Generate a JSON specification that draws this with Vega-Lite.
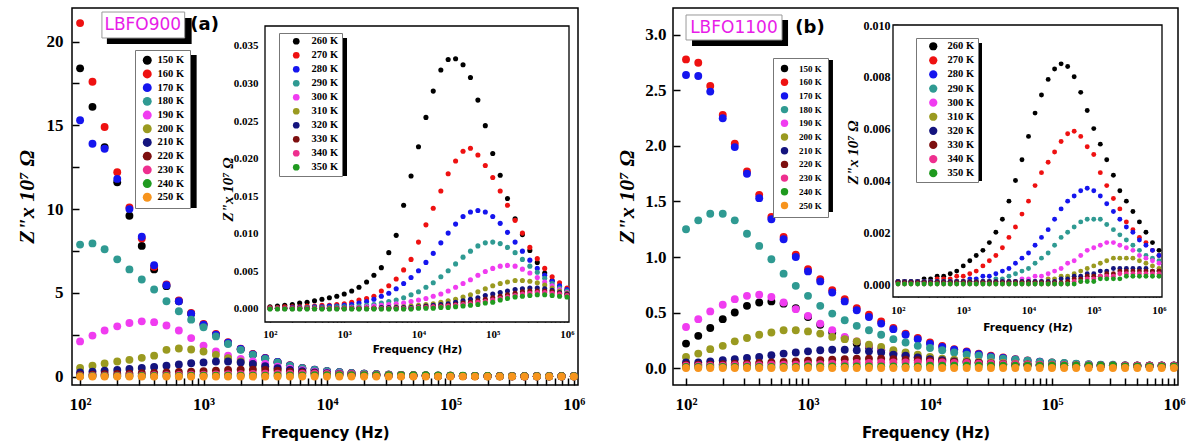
{
"$schema":"https://vega.github.io/schema/vega-lite/v6.json",
"width":1192,"height":446,"padding":0,"autosize":{"type":"none"},"background":"white",
"config":{"view":{"stroke":null},"axis":{"grid":false,"domain":false,"ticks":true,"tickOpacity":1,"tickColor":"#000000","labelColor":"black","titleColor":"black","zindex":2,"labelFlush":false,"labelOverlap":false,"labelBound":false,"tickWidth":1.5}},
"datasets":{
"ma":[
{"T":150,"f":100,"z":18.4},{"T":150,"f":126,"z":16.1},{"T":150,"f":158,"z":13.7},{"T":150,"f":200,"z":11.6},{"T":150,"f":251,"z":9.6},{"T":150,"f":316,"z":7.8},{"T":150,"f":398,"z":6.4},{"T":150,"f":501,"z":5.4},{"T":150,"f":631,"z":4.5},{"T":150,"f":794,"z":3.75},{"T":150,"f":1000,"z":3.1},{"T":150,"f":1260,"z":2.5},{"T":150,"f":1580,"z":2.0},{"T":150,"f":2000,"z":1.63},{"T":150,"f":2510,"z":1.32},{"T":150,"f":3160,"z":1.1},{"T":150,"f":3980,"z":0.86},{"T":150,"f":5010,"z":0.66},{"T":150,"f":6310,"z":0.5},{"T":150,"f":7940,"z":0.4},{"T":150,"f":1e4,"z":0.32},{"T":150,"f":1.26e4,"z":0.26},{"T":150,"f":1.58e4,"z":0.21},{"T":150,"f":2e4,"z":0.17},{"T":150,"f":2.51e4,"z":0.14},{"T":150,"f":3.16e4,"z":0.12},{"T":150,"f":3.98e4,"z":0.1},{"T":150,"f":5.01e4,"z":0.08},{"T":150,"f":6.31e4,"z":0.07},{"T":150,"f":7.94e4,"z":0.06},{"T":150,"f":1e5,"z":0.05},{"T":150,"f":1.26e5,"z":0.04},{"T":150,"f":1.58e5,"z":0.04},{"T":150,"f":2e5,"z":0.03},{"T":150,"f":2.51e5,"z":0.03},{"T":150,"f":3.16e5,"z":0.03},{"T":150,"f":3.98e5,"z":0.02},{"T":150,"f":5.01e5,"z":0.02},{"T":150,"f":6.31e5,"z":0.02},{"T":150,"f":7.94e5,"z":0.02},{"T":150,"f":1e6,"z":0.02},
{"T":160,"f":100,"z":21.1},{"T":160,"f":126,"z":17.6},{"T":160,"f":158,"z":14.9},{"T":160,"f":200,"z":12.2},{"T":160,"f":251,"z":10.1},{"T":160,"f":316,"z":8.25},{"T":160,"f":398,"z":6.55},{"T":160,"f":501,"z":5.5},{"T":160,"f":631,"z":4.55},{"T":160,"f":794,"z":3.8},{"T":160,"f":1000,"z":3.15},{"T":160,"f":1260,"z":2.55},{"T":160,"f":1580,"z":2.05},{"T":160,"f":2000,"z":1.67},{"T":160,"f":2510,"z":1.35},{"T":160,"f":3160,"z":1.12},{"T":160,"f":3980,"z":0.88},{"T":160,"f":5010,"z":0.68},{"T":160,"f":6310,"z":0.52},{"T":160,"f":7940,"z":0.42},{"T":160,"f":1e4,"z":0.33},{"T":160,"f":1.26e4,"z":0.27},{"T":160,"f":1.58e4,"z":0.22},{"T":160,"f":2e4,"z":0.18},{"T":160,"f":2.51e4,"z":0.15},{"T":160,"f":3.16e4,"z":0.12},{"T":160,"f":3.98e4,"z":0.1},{"T":160,"f":5.01e4,"z":0.08},{"T":160,"f":6.31e4,"z":0.07},{"T":160,"f":7.94e4,"z":0.06},{"T":160,"f":1e5,"z":0.05},{"T":160,"f":1.26e5,"z":0.04},{"T":160,"f":1.58e5,"z":0.04},{"T":160,"f":2e5,"z":0.03},{"T":160,"f":2.51e5,"z":0.03},{"T":160,"f":3.16e5,"z":0.03},{"T":160,"f":3.98e5,"z":0.02},{"T":160,"f":5.01e5,"z":0.02},{"T":160,"f":6.31e5,"z":0.02},{"T":160,"f":7.94e5,"z":0.02},{"T":160,"f":1e6,"z":0.02},
{"T":170,"f":100,"z":15.3},{"T":170,"f":126,"z":13.9},{"T":170,"f":158,"z":13.6},{"T":170,"f":200,"z":11.8},{"T":170,"f":251,"z":10.0},{"T":170,"f":316,"z":8.35},{"T":170,"f":398,"z":6.65},{"T":170,"f":501,"z":5.45},{"T":170,"f":631,"z":4.5},{"T":170,"f":794,"z":3.75},{"T":170,"f":1000,"z":3.1},{"T":170,"f":1260,"z":2.5},{"T":170,"f":1580,"z":2.02},{"T":170,"f":2000,"z":1.65},{"T":170,"f":2510,"z":1.33},{"T":170,"f":3160,"z":1.1},{"T":170,"f":3980,"z":0.87},{"T":170,"f":5010,"z":0.67},{"T":170,"f":6310,"z":0.51},{"T":170,"f":7940,"z":0.41},{"T":170,"f":1e4,"z":0.32},{"T":170,"f":1.26e4,"z":0.26},{"T":170,"f":1.58e4,"z":0.21},{"T":170,"f":2e4,"z":0.17},{"T":170,"f":2.51e4,"z":0.14},{"T":170,"f":3.16e4,"z":0.11},{"T":170,"f":3.98e4,"z":0.09},{"T":170,"f":5.01e4,"z":0.075},{"T":170,"f":6.31e4,"z":0.065},{"T":170,"f":7.94e4,"z":0.055},{"T":170,"f":1e5,"z":0.045},{"T":170,"f":1.26e5,"z":0.04},{"T":170,"f":1.58e5,"z":0.035},{"T":170,"f":2e5,"z":0.03},{"T":170,"f":2.51e5,"z":0.03},{"T":170,"f":3.16e5,"z":0.025},{"T":170,"f":3.98e5,"z":0.02},{"T":170,"f":5.01e5,"z":0.02},{"T":170,"f":6.31e5,"z":0.02},{"T":170,"f":7.94e5,"z":0.02},{"T":170,"f":1e6,"z":0.02},
{"T":180,"f":100,"z":7.88},{"T":180,"f":126,"z":7.95},{"T":180,"f":158,"z":7.6},{"T":180,"f":200,"z":7.0},{"T":180,"f":251,"z":6.4},{"T":180,"f":316,"z":5.8},{"T":180,"f":398,"z":5.2},{"T":180,"f":501,"z":4.5},{"T":180,"f":631,"z":3.9},{"T":180,"f":794,"z":3.4},{"T":180,"f":1000,"z":2.95},{"T":180,"f":1260,"z":2.4},{"T":180,"f":1580,"z":1.95},{"T":180,"f":2000,"z":1.6},{"T":180,"f":2510,"z":1.3},{"T":180,"f":3160,"z":1.05},{"T":180,"f":3980,"z":0.85},{"T":180,"f":5010,"z":0.65},{"T":180,"f":6310,"z":0.5},{"T":180,"f":7940,"z":0.4},{"T":180,"f":1e4,"z":0.32},{"T":180,"f":1.26e4,"z":0.26},{"T":180,"f":1.58e4,"z":0.21},{"T":180,"f":2e4,"z":0.17},{"T":180,"f":2.51e4,"z":0.14},{"T":180,"f":3.16e4,"z":0.11},{"T":180,"f":3.98e4,"z":0.09},{"T":180,"f":5.01e4,"z":0.075},{"T":180,"f":6.31e4,"z":0.06},{"T":180,"f":7.94e4,"z":0.05},{"T":180,"f":1e5,"z":0.045},{"T":180,"f":1.26e5,"z":0.04},{"T":180,"f":1.58e5,"z":0.035},{"T":180,"f":2e5,"z":0.03},{"T":180,"f":2.51e5,"z":0.03},{"T":180,"f":3.16e5,"z":0.025},{"T":180,"f":3.98e5,"z":0.02},{"T":180,"f":5.01e5,"z":0.02},{"T":180,"f":6.31e5,"z":0.02},{"T":180,"f":7.94e5,"z":0.02},{"T":180,"f":1e6,"z":0.02},
{"T":190,"f":100,"z":2.1},{"T":190,"f":126,"z":2.45},{"T":190,"f":158,"z":2.75},{"T":190,"f":200,"z":3.0},{"T":190,"f":251,"z":3.2},{"T":190,"f":316,"z":3.3},{"T":190,"f":398,"z":3.25},{"T":190,"f":501,"z":3.05},{"T":190,"f":631,"z":2.75},{"T":190,"f":794,"z":2.3},{"T":190,"f":1000,"z":1.85},{"T":190,"f":1260,"z":1.5},{"T":190,"f":1580,"z":1.25},{"T":190,"f":2000,"z":1.05},{"T":190,"f":2510,"z":0.9},{"T":190,"f":3160,"z":0.75},{"T":190,"f":3980,"z":0.6},{"T":190,"f":5010,"z":0.48},{"T":190,"f":6310,"z":0.38},{"T":190,"f":7940,"z":0.3},{"T":190,"f":1e4,"z":0.24},{"T":190,"f":1.26e4,"z":0.19},{"T":190,"f":1.58e4,"z":0.15},{"T":190,"f":2e4,"z":0.12},{"T":190,"f":2.51e4,"z":0.1},{"T":190,"f":3.16e4,"z":0.08},{"T":190,"f":3.98e4,"z":0.07},{"T":190,"f":5.01e4,"z":0.06},{"T":190,"f":6.31e4,"z":0.05},{"T":190,"f":7.94e4,"z":0.05},{"T":190,"f":1e5,"z":0.04},{"T":190,"f":1.26e5,"z":0.04},{"T":190,"f":1.58e5,"z":0.03},{"T":190,"f":2e5,"z":0.03},{"T":190,"f":2.51e5,"z":0.03},{"T":190,"f":3.16e5,"z":0.02},{"T":190,"f":3.98e5,"z":0.02},{"T":190,"f":5.01e5,"z":0.02},{"T":190,"f":6.31e5,"z":0.02},{"T":190,"f":7.94e5,"z":0.02},{"T":190,"f":1e6,"z":0.02},
{"T":200,"f":100,"z":0.52},{"T":200,"f":126,"z":0.65},{"T":200,"f":158,"z":0.78},{"T":200,"f":200,"z":0.9},{"T":200,"f":251,"z":1.0},{"T":200,"f":316,"z":1.12},{"T":200,"f":398,"z":1.25},{"T":200,"f":501,"z":1.6},{"T":200,"f":631,"z":1.68},{"T":200,"f":794,"z":1.62},{"T":200,"f":1000,"z":1.5},{"T":200,"f":1260,"z":1.3},{"T":200,"f":1580,"z":1.1},{"T":200,"f":2000,"z":0.9},{"T":200,"f":2510,"z":0.72},{"T":200,"f":3160,"z":0.58},{"T":200,"f":3980,"z":0.45},{"T":200,"f":5010,"z":0.35},{"T":200,"f":6310,"z":0.27},{"T":200,"f":7940,"z":0.2},{"T":200,"f":1e4,"z":0.16},{"T":200,"f":1.26e4,"z":0.13},{"T":200,"f":1.58e4,"z":0.1},{"T":200,"f":2e4,"z":0.08},{"T":200,"f":2.51e4,"z":0.07},{"T":200,"f":3.16e4,"z":0.06},{"T":200,"f":3.98e4,"z":0.05},{"T":200,"f":5.01e4,"z":0.05},{"T":200,"f":6.31e4,"z":0.04},{"T":200,"f":7.94e4,"z":0.04},{"T":200,"f":1e5,"z":0.03},{"T":200,"f":1.26e5,"z":0.03},{"T":200,"f":1.58e5,"z":0.03},{"T":200,"f":2e5,"z":0.02},{"T":200,"f":2.51e5,"z":0.02},{"T":200,"f":3.16e5,"z":0.02},{"T":200,"f":3.98e5,"z":0.02},{"T":200,"f":5.01e5,"z":0.02},{"T":200,"f":6.31e5,"z":0.02},{"T":200,"f":7.94e5,"z":0.02},{"T":200,"f":1e6,"z":0.02},
{"T":210,"f":100,"z":0.25},{"T":210,"f":126,"z":0.3},{"T":210,"f":158,"z":0.35},{"T":210,"f":200,"z":0.4},{"T":210,"f":251,"z":0.46},{"T":210,"f":316,"z":0.52},{"T":210,"f":398,"z":0.58},{"T":210,"f":501,"z":0.65},{"T":210,"f":631,"z":0.72},{"T":210,"f":794,"z":0.8},{"T":210,"f":1000,"z":0.85},{"T":210,"f":1260,"z":0.9},{"T":210,"f":1580,"z":0.9},{"T":210,"f":2000,"z":0.85},{"T":210,"f":2510,"z":0.75},{"T":210,"f":3160,"z":0.62},{"T":210,"f":3980,"z":0.5},{"T":210,"f":5010,"z":0.4},{"T":210,"f":6310,"z":0.32},{"T":210,"f":7940,"z":0.25},{"T":210,"f":1e4,"z":0.2},{"T":210,"f":1.26e4,"z":0.16},{"T":210,"f":1.58e4,"z":0.13},{"T":210,"f":2e4,"z":0.1},{"T":210,"f":2.51e4,"z":0.08},{"T":210,"f":3.16e4,"z":0.07},{"T":210,"f":3.98e4,"z":0.06},{"T":210,"f":5.01e4,"z":0.05},{"T":210,"f":6.31e4,"z":0.05},{"T":210,"f":7.94e4,"z":0.04},{"T":210,"f":1e5,"z":0.04},{"T":210,"f":1.26e5,"z":0.03},{"T":210,"f":1.58e5,"z":0.03},{"T":210,"f":2e5,"z":0.03},{"T":210,"f":2.51e5,"z":0.02},{"T":210,"f":3.16e5,"z":0.02},{"T":210,"f":3.98e5,"z":0.02},{"T":210,"f":5.01e5,"z":0.02},{"T":210,"f":6.31e5,"z":0.02},{"T":210,"f":7.94e5,"z":0.02},{"T":210,"f":1e6,"z":0.02},
{"T":220,"f":100,"z":0.1},{"T":220,"f":126,"z":0.12},{"T":220,"f":158,"z":0.14},{"T":220,"f":200,"z":0.16},{"T":220,"f":251,"z":0.18},{"T":220,"f":316,"z":0.2},{"T":220,"f":398,"z":0.22},{"T":220,"f":501,"z":0.25},{"T":220,"f":631,"z":0.28},{"T":220,"f":794,"z":0.3},{"T":220,"f":1000,"z":0.33},{"T":220,"f":1260,"z":0.36},{"T":220,"f":1580,"z":0.4},{"T":220,"f":2000,"z":0.42},{"T":220,"f":2510,"z":0.42},{"T":220,"f":3160,"z":0.4},{"T":220,"f":3980,"z":0.36},{"T":220,"f":5010,"z":0.3},{"T":220,"f":6310,"z":0.25},{"T":220,"f":7940,"z":0.2},{"T":220,"f":1e4,"z":0.16},{"T":220,"f":1.26e4,"z":0.13},{"T":220,"f":1.58e4,"z":0.11},{"T":220,"f":2e4,"z":0.09},{"T":220,"f":2.51e4,"z":0.07},{"T":220,"f":3.16e4,"z":0.06},{"T":220,"f":3.98e4,"z":0.05},{"T":220,"f":5.01e4,"z":0.04},{"T":220,"f":6.31e4,"z":0.04},{"T":220,"f":7.94e4,"z":0.03},{"T":220,"f":1e5,"z":0.03},{"T":220,"f":1.26e5,"z":0.03},{"T":220,"f":1.58e5,"z":0.02},{"T":220,"f":2e5,"z":0.02},{"T":220,"f":2.51e5,"z":0.02},{"T":220,"f":3.16e5,"z":0.02},{"T":220,"f":3.98e5,"z":0.02},{"T":220,"f":5.01e5,"z":0.02},{"T":220,"f":6.31e5,"z":0.02},{"T":220,"f":7.94e5,"z":0.02},{"T":220,"f":1e6,"z":0.02},
{"T":230,"f":100,"z":0.05},{"T":230,"f":126,"z":0.05},{"T":230,"f":158,"z":0.06},{"T":230,"f":200,"z":0.06},{"T":230,"f":251,"z":0.07},{"T":230,"f":316,"z":0.07},{"T":230,"f":398,"z":0.08},{"T":230,"f":501,"z":0.09},{"T":230,"f":631,"z":0.1},{"T":230,"f":794,"z":0.11},{"T":230,"f":1000,"z":0.12},{"T":230,"f":1260,"z":0.13},{"T":230,"f":1580,"z":0.14},{"T":230,"f":2000,"z":0.15},{"T":230,"f":2510,"z":0.16},{"T":230,"f":3160,"z":0.17},{"T":230,"f":3980,"z":0.18},{"T":230,"f":5010,"z":0.18},{"T":230,"f":6310,"z":0.18},{"T":230,"f":7940,"z":0.17},{"T":230,"f":1e4,"z":0.16},{"T":230,"f":1.26e4,"z":0.15},{"T":230,"f":1.58e4,"z":0.14},{"T":230,"f":2e4,"z":0.12},{"T":230,"f":2.51e4,"z":0.11},{"T":230,"f":3.16e4,"z":0.1},{"T":230,"f":3.98e4,"z":0.09},{"T":230,"f":5.01e4,"z":0.08},{"T":230,"f":6.31e4,"z":0.07},{"T":230,"f":7.94e4,"z":0.06},{"T":230,"f":1e5,"z":0.05},{"T":230,"f":1.26e5,"z":0.04},{"T":230,"f":1.58e5,"z":0.04},{"T":230,"f":2e5,"z":0.03},{"T":230,"f":2.51e5,"z":0.03},{"T":230,"f":3.16e5,"z":0.03},{"T":230,"f":3.98e5,"z":0.02},{"T":230,"f":5.01e5,"z":0.02},{"T":230,"f":6.31e5,"z":0.02},{"T":230,"f":7.94e5,"z":0.02},{"T":230,"f":1e6,"z":0.02},
{"T":240,"f":100,"z":0.03},{"T":240,"f":126,"z":0.03},{"T":240,"f":158,"z":0.03},{"T":240,"f":200,"z":0.03},{"T":240,"f":251,"z":0.03},{"T":240,"f":316,"z":0.04},{"T":240,"f":398,"z":0.04},{"T":240,"f":501,"z":0.04},{"T":240,"f":631,"z":0.04},{"T":240,"f":794,"z":0.05},{"T":240,"f":1000,"z":0.05},{"T":240,"f":1260,"z":0.05},{"T":240,"f":1580,"z":0.05},{"T":240,"f":2000,"z":0.06},{"T":240,"f":2510,"z":0.06},{"T":240,"f":3160,"z":0.06},{"T":240,"f":3980,"z":0.07},{"T":240,"f":5010,"z":0.07},{"T":240,"f":6310,"z":0.07},{"T":240,"f":7940,"z":0.08},{"T":240,"f":1e4,"z":0.08},{"T":240,"f":1.26e4,"z":0.08},{"T":240,"f":1.58e4,"z":0.09},{"T":240,"f":2e4,"z":0.09},{"T":240,"f":2.51e4,"z":0.09},{"T":240,"f":3.16e4,"z":0.09},{"T":240,"f":3.98e4,"z":0.09},{"T":240,"f":5.01e4,"z":0.08},{"T":240,"f":6.31e4,"z":0.08},{"T":240,"f":7.94e4,"z":0.07},{"T":240,"f":1e5,"z":0.06},{"T":240,"f":1.26e5,"z":0.05},{"T":240,"f":1.58e5,"z":0.04},{"T":240,"f":2e5,"z":0.04},{"T":240,"f":2.51e5,"z":0.03},{"T":240,"f":3.16e5,"z":0.03},{"T":240,"f":3.98e5,"z":0.03},{"T":240,"f":5.01e5,"z":0.02},{"T":240,"f":6.31e5,"z":0.02},{"T":240,"f":7.94e5,"z":0.02},{"T":240,"f":1e6,"z":0.02},
{"T":250,"f":100,"z":0},{"T":250,"f":126,"z":0},{"T":250,"f":158,"z":0},{"T":250,"f":200,"z":0},{"T":250,"f":251,"z":0},{"T":250,"f":316,"z":0},{"T":250,"f":398,"z":0},{"T":250,"f":501,"z":0},{"T":250,"f":631,"z":0},{"T":250,"f":794,"z":0},{"T":250,"f":1000,"z":0},{"T":250,"f":1260,"z":0},{"T":250,"f":1580,"z":0},{"T":250,"f":2000,"z":0},{"T":250,"f":2510,"z":0},{"T":250,"f":3160,"z":0},{"T":250,"f":3980,"z":0},{"T":250,"f":5010,"z":0},{"T":250,"f":6310,"z":0},{"T":250,"f":7940,"z":0},{"T":250,"f":1e4,"z":0},{"T":250,"f":1.26e4,"z":0},{"T":250,"f":1.58e4,"z":0},{"T":250,"f":2e4,"z":0},{"T":250,"f":2.51e4,"z":0},{"T":250,"f":3.16e4,"z":0},{"T":250,"f":3.98e4,"z":0},{"T":250,"f":5.01e4,"z":0},{"T":250,"f":6.31e4,"z":0},{"T":250,"f":7.94e4,"z":0},{"T":250,"f":1e5,"z":0},{"T":250,"f":1.26e5,"z":0},{"T":250,"f":1.58e5,"z":0},{"T":250,"f":2e5,"z":0},{"T":250,"f":2.51e5,"z":0},{"T":250,"f":3.16e5,"z":0},{"T":250,"f":3.98e5,"z":0},{"T":250,"f":5.01e5,"z":0},{"T":250,"f":6.31e5,"z":0},{"T":250,"f":7.94e5,"z":0},{"T":250,"f":1e6,"z":0}
],
"mb":[
{"T":150,"f":100,"z":0.22},{"T":150,"f":126,"z":0.29},{"T":150,"f":158,"z":0.36},{"T":150,"f":200,"z":0.44},{"T":150,"f":251,"z":0.5},{"T":150,"f":316,"z":0.56},{"T":150,"f":398,"z":0.59},{"T":150,"f":501,"z":0.6},{"T":150,"f":631,"z":0.58},{"T":150,"f":794,"z":0.54},{"T":150,"f":1000,"z":0.46},{"T":150,"f":1260,"z":0.39},{"T":150,"f":1580,"z":0.32},{"T":150,"f":2000,"z":0.27},{"T":150,"f":2510,"z":0.22},{"T":150,"f":3160,"z":0.19},{"T":150,"f":3980,"z":0.16},{"T":150,"f":5010,"z":0.13},{"T":150,"f":6310,"z":0.11},{"T":150,"f":7940,"z":0.095},{"T":150,"f":1e4,"z":0.085},{"T":150,"f":1.26e4,"z":0.075},{"T":150,"f":1.58e4,"z":0.065},{"T":150,"f":2e4,"z":0.06},{"T":150,"f":2.51e4,"z":0.05},{"T":150,"f":3.16e4,"z":0.045},{"T":150,"f":3.98e4,"z":0.04},{"T":150,"f":5.01e4,"z":0.035},{"T":150,"f":6.31e4,"z":0.03},{"T":150,"f":7.94e4,"z":0.03},{"T":150,"f":1e5,"z":0.025},{"T":150,"f":1.26e5,"z":0.025},{"T":150,"f":1.58e5,"z":0.02},{"T":150,"f":2e5,"z":0.02},{"T":150,"f":2.51e5,"z":0.02},{"T":150,"f":3.16e5,"z":0.02},{"T":150,"f":3.98e5,"z":0.02},{"T":150,"f":5.01e5,"z":0.02},{"T":150,"f":6.31e5,"z":0.02},{"T":150,"f":7.94e5,"z":0.02},{"T":150,"f":1e6,"z":0.02},
{"T":160,"f":100,"z":2.78},{"T":160,"f":126,"z":2.75},{"T":160,"f":158,"z":2.54},{"T":160,"f":200,"z":2.28},{"T":160,"f":251,"z":2.02},{"T":160,"f":316,"z":1.77},{"T":160,"f":398,"z":1.56},{"T":160,"f":501,"z":1.36},{"T":160,"f":631,"z":1.18},{"T":160,"f":794,"z":1.02},{"T":160,"f":1000,"z":0.89},{"T":160,"f":1260,"z":0.8},{"T":160,"f":1580,"z":0.7},{"T":160,"f":2000,"z":0.62},{"T":160,"f":2510,"z":0.54},{"T":160,"f":3160,"z":0.48},{"T":160,"f":3980,"z":0.42},{"T":160,"f":5010,"z":0.36},{"T":160,"f":6310,"z":0.31},{"T":160,"f":7940,"z":0.27},{"T":160,"f":1e4,"z":0.23},{"T":160,"f":1.26e4,"z":0.2},{"T":160,"f":1.58e4,"z":0.17},{"T":160,"f":2e4,"z":0.15},{"T":160,"f":2.51e4,"z":0.13},{"T":160,"f":3.16e4,"z":0.11},{"T":160,"f":3.98e4,"z":0.095},{"T":160,"f":5.01e4,"z":0.08},{"T":160,"f":6.31e4,"z":0.068},{"T":160,"f":7.94e4,"z":0.058},{"T":160,"f":1e5,"z":0.05},{"T":160,"f":1.26e5,"z":0.043},{"T":160,"f":1.58e5,"z":0.037},{"T":160,"f":2e5,"z":0.032},{"T":160,"f":2.51e5,"z":0.028},{"T":160,"f":3.16e5,"z":0.025},{"T":160,"f":3.98e5,"z":0.022},{"T":160,"f":5.01e5,"z":0.02},{"T":160,"f":6.31e5,"z":0.02},{"T":160,"f":7.94e5,"z":0.02},{"T":160,"f":1e6,"z":0.02},
{"T":170,"f":100,"z":2.64},{"T":170,"f":126,"z":2.63},{"T":170,"f":158,"z":2.49},{"T":170,"f":200,"z":2.25},{"T":170,"f":251,"z":1.99},{"T":170,"f":316,"z":1.75},{"T":170,"f":398,"z":1.53},{"T":170,"f":501,"z":1.34},{"T":170,"f":631,"z":1.16},{"T":170,"f":794,"z":1.0},{"T":170,"f":1000,"z":0.87},{"T":170,"f":1260,"z":0.78},{"T":170,"f":1580,"z":0.68},{"T":170,"f":2000,"z":0.6},{"T":170,"f":2510,"z":0.52},{"T":170,"f":3160,"z":0.46},{"T":170,"f":3980,"z":0.4},{"T":170,"f":5010,"z":0.35},{"T":170,"f":6310,"z":0.3},{"T":170,"f":7940,"z":0.26},{"T":170,"f":1e4,"z":0.22},{"T":170,"f":1.26e4,"z":0.19},{"T":170,"f":1.58e4,"z":0.165},{"T":170,"f":2e4,"z":0.145},{"T":170,"f":2.51e4,"z":0.125},{"T":170,"f":3.16e4,"z":0.105},{"T":170,"f":3.98e4,"z":0.09},{"T":170,"f":5.01e4,"z":0.078},{"T":170,"f":6.31e4,"z":0.066},{"T":170,"f":7.94e4,"z":0.056},{"T":170,"f":1e5,"z":0.048},{"T":170,"f":1.26e5,"z":0.042},{"T":170,"f":1.58e5,"z":0.036},{"T":170,"f":2e5,"z":0.031},{"T":170,"f":2.51e5,"z":0.027},{"T":170,"f":3.16e5,"z":0.024},{"T":170,"f":3.98e5,"z":0.021},{"T":170,"f":5.01e5,"z":0.02},{"T":170,"f":6.31e5,"z":0.02},{"T":170,"f":7.94e5,"z":0.02},{"T":170,"f":1e6,"z":0.02},
{"T":180,"f":100,"z":1.25},{"T":180,"f":126,"z":1.33},{"T":180,"f":158,"z":1.39},{"T":180,"f":200,"z":1.39},{"T":180,"f":251,"z":1.33},{"T":180,"f":316,"z":1.21},{"T":180,"f":398,"z":1.1},{"T":180,"f":501,"z":0.98},{"T":180,"f":631,"z":0.85},{"T":180,"f":794,"z":0.74},{"T":180,"f":1000,"z":0.65},{"T":180,"f":1260,"z":0.56},{"T":180,"f":1580,"z":0.49},{"T":180,"f":2000,"z":0.43},{"T":180,"f":2510,"z":0.38},{"T":180,"f":3160,"z":0.34},{"T":180,"f":3980,"z":0.3},{"T":180,"f":5010,"z":0.26},{"T":180,"f":6310,"z":0.23},{"T":180,"f":7940,"z":0.2},{"T":180,"f":1e4,"z":0.18},{"T":180,"f":1.26e4,"z":0.16},{"T":180,"f":1.58e4,"z":0.14},{"T":180,"f":2e4,"z":0.12},{"T":180,"f":2.51e4,"z":0.11},{"T":180,"f":3.16e4,"z":0.095},{"T":180,"f":3.98e4,"z":0.085},{"T":180,"f":5.01e4,"z":0.075},{"T":180,"f":6.31e4,"z":0.065},{"T":180,"f":7.94e4,"z":0.055},{"T":180,"f":1e5,"z":0.05},{"T":180,"f":1.26e5,"z":0.045},{"T":180,"f":1.58e5,"z":0.04},{"T":180,"f":2e5,"z":0.035},{"T":180,"f":2.51e5,"z":0.03},{"T":180,"f":3.16e5,"z":0.03},{"T":180,"f":3.98e5,"z":0.025},{"T":180,"f":5.01e5,"z":0.02},{"T":180,"f":6.31e5,"z":0.02},{"T":180,"f":7.94e5,"z":0.02},{"T":180,"f":1e6,"z":0.02},
{"T":190,"f":100,"z":0.37},{"T":190,"f":126,"z":0.44},{"T":190,"f":158,"z":0.51},{"T":190,"f":200,"z":0.57},{"T":190,"f":251,"z":0.62},{"T":190,"f":316,"z":0.65},{"T":190,"f":398,"z":0.66},{"T":190,"f":501,"z":0.64},{"T":190,"f":631,"z":0.59},{"T":190,"f":794,"z":0.53},{"T":190,"f":1000,"z":0.47},{"T":190,"f":1260,"z":0.4},{"T":190,"f":1580,"z":0.34},{"T":190,"f":2000,"z":0.28},{"T":190,"f":2510,"z":0.24},{"T":190,"f":3160,"z":0.2},{"T":190,"f":3980,"z":0.17},{"T":190,"f":5010,"z":0.14},{"T":190,"f":6310,"z":0.12},{"T":190,"f":7940,"z":0.1},{"T":190,"f":1e4,"z":0.09},{"T":190,"f":1.26e4,"z":0.08},{"T":190,"f":1.58e4,"z":0.07},{"T":190,"f":2e4,"z":0.06},{"T":190,"f":2.51e4,"z":0.055},{"T":190,"f":3.16e4,"z":0.05},{"T":190,"f":3.98e4,"z":0.045},{"T":190,"f":5.01e4,"z":0.04},{"T":190,"f":6.31e4,"z":0.035},{"T":190,"f":7.94e4,"z":0.03},{"T":190,"f":1e5,"z":0.03},{"T":190,"f":1.26e5,"z":0.028},{"T":190,"f":1.58e5,"z":0.025},{"T":190,"f":2e5,"z":0.025},{"T":190,"f":2.51e5,"z":0.02},{"T":190,"f":3.16e5,"z":0.02},{"T":190,"f":3.98e5,"z":0.02},{"T":190,"f":5.01e5,"z":0.02},{"T":190,"f":6.31e5,"z":0.02},{"T":190,"f":7.94e5,"z":0.02},{"T":190,"f":1e6,"z":0.02},
{"T":200,"f":100,"z":0.1},{"T":200,"f":126,"z":0.13},{"T":200,"f":158,"z":0.17},{"T":200,"f":200,"z":0.2},{"T":200,"f":251,"z":0.24},{"T":200,"f":316,"z":0.27},{"T":200,"f":398,"z":0.3},{"T":200,"f":501,"z":0.32},{"T":200,"f":631,"z":0.34},{"T":200,"f":794,"z":0.34},{"T":200,"f":1000,"z":0.33},{"T":200,"f":1260,"z":0.31},{"T":200,"f":1580,"z":0.28},{"T":200,"f":2000,"z":0.26},{"T":200,"f":2510,"z":0.24},{"T":200,"f":3160,"z":0.21},{"T":200,"f":3980,"z":0.19},{"T":200,"f":5010,"z":0.16},{"T":200,"f":6310,"z":0.14},{"T":200,"f":7940,"z":0.12},{"T":200,"f":1e4,"z":0.1},{"T":200,"f":1.26e4,"z":0.085},{"T":200,"f":1.58e4,"z":0.075},{"T":200,"f":2e4,"z":0.065},{"T":200,"f":2.51e4,"z":0.055},{"T":200,"f":3.16e4,"z":0.05},{"T":200,"f":3.98e4,"z":0.045},{"T":200,"f":5.01e4,"z":0.04},{"T":200,"f":6.31e4,"z":0.035},{"T":200,"f":7.94e4,"z":0.03},{"T":200,"f":1e5,"z":0.03},{"T":200,"f":1.26e5,"z":0.025},{"T":200,"f":1.58e5,"z":0.025},{"T":200,"f":2e5,"z":0.02},{"T":200,"f":2.51e5,"z":0.02},{"T":200,"f":3.16e5,"z":0.02},{"T":200,"f":3.98e5,"z":0.02},{"T":200,"f":5.01e5,"z":0.02},{"T":200,"f":6.31e5,"z":0.02},{"T":200,"f":7.94e5,"z":0.02},{"T":200,"f":1e6,"z":0.02},
{"T":210,"f":100,"z":0.05},{"T":210,"f":126,"z":0.05},{"T":210,"f":158,"z":0.06},{"T":210,"f":200,"z":0.07},{"T":210,"f":251,"z":0.08},{"T":210,"f":316,"z":0.09},{"T":210,"f":398,"z":0.1},{"T":210,"f":501,"z":0.115},{"T":210,"f":631,"z":0.13},{"T":210,"f":794,"z":0.14},{"T":210,"f":1000,"z":0.15},{"T":210,"f":1260,"z":0.16},{"T":210,"f":1580,"z":0.165},{"T":210,"f":2000,"z":0.165},{"T":210,"f":2510,"z":0.16},{"T":210,"f":3160,"z":0.15},{"T":210,"f":3980,"z":0.14},{"T":210,"f":5010,"z":0.12},{"T":210,"f":6310,"z":0.11},{"T":210,"f":7940,"z":0.095},{"T":210,"f":1e4,"z":0.08},{"T":210,"f":1.26e4,"z":0.07},{"T":210,"f":1.58e4,"z":0.06},{"T":210,"f":2e4,"z":0.05},{"T":210,"f":2.51e4,"z":0.045},{"T":210,"f":3.16e4,"z":0.04},{"T":210,"f":3.98e4,"z":0.035},{"T":210,"f":5.01e4,"z":0.03},{"T":210,"f":6.31e4,"z":0.03},{"T":210,"f":7.94e4,"z":0.025},{"T":210,"f":1e5,"z":0.02},{"T":210,"f":1.26e5,"z":0.02},{"T":210,"f":1.58e5,"z":0.02},{"T":210,"f":2e5,"z":0.02},{"T":210,"f":2.51e5,"z":0.02},{"T":210,"f":3.16e5,"z":0.02},{"T":210,"f":3.98e5,"z":0.02},{"T":210,"f":5.01e5,"z":0.02},{"T":210,"f":6.31e5,"z":0.02},{"T":210,"f":7.94e5,"z":0.02},{"T":210,"f":1e6,"z":0.02},
{"T":220,"f":100,"z":0.03},{"T":220,"f":126,"z":0.03},{"T":220,"f":158,"z":0.03},{"T":220,"f":200,"z":0.035},{"T":220,"f":251,"z":0.04},{"T":220,"f":316,"z":0.04},{"T":220,"f":398,"z":0.045},{"T":220,"f":501,"z":0.05},{"T":220,"f":631,"z":0.055},{"T":220,"f":794,"z":0.06},{"T":220,"f":1000,"z":0.065},{"T":220,"f":1260,"z":0.07},{"T":220,"f":1580,"z":0.075},{"T":220,"f":2000,"z":0.08},{"T":220,"f":2510,"z":0.085},{"T":220,"f":3160,"z":0.085},{"T":220,"f":3980,"z":0.085},{"T":220,"f":5010,"z":0.08},{"T":220,"f":6310,"z":0.075},{"T":220,"f":7940,"z":0.07},{"T":220,"f":1e4,"z":0.065},{"T":220,"f":1.26e4,"z":0.06},{"T":220,"f":1.58e4,"z":0.055},{"T":220,"f":2e4,"z":0.05},{"T":220,"f":2.51e4,"z":0.045},{"T":220,"f":3.16e4,"z":0.04},{"T":220,"f":3.98e4,"z":0.035},{"T":220,"f":5.01e4,"z":0.03},{"T":220,"f":6.31e4,"z":0.03},{"T":220,"f":7.94e4,"z":0.025},{"T":220,"f":1e5,"z":0.02},{"T":220,"f":1.26e5,"z":0.02},{"T":220,"f":1.58e5,"z":0.02},{"T":220,"f":2e5,"z":0.02},{"T":220,"f":2.51e5,"z":0.02},{"T":220,"f":3.16e5,"z":0.02},{"T":220,"f":3.98e5,"z":0.02},{"T":220,"f":5.01e5,"z":0.02},{"T":220,"f":6.31e5,"z":0.02},{"T":220,"f":7.94e5,"z":0.02},{"T":220,"f":1e6,"z":0.02},
{"T":230,"f":100,"z":0.02},{"T":230,"f":126,"z":0.02},{"T":230,"f":158,"z":0.02},{"T":230,"f":200,"z":0.02},{"T":230,"f":251,"z":0.025},{"T":230,"f":316,"z":0.025},{"T":230,"f":398,"z":0.025},{"T":230,"f":501,"z":0.03},{"T":230,"f":631,"z":0.03},{"T":230,"f":794,"z":0.03},{"T":230,"f":1000,"z":0.035},{"T":230,"f":1260,"z":0.035},{"T":230,"f":1580,"z":0.04},{"T":230,"f":2000,"z":0.04},{"T":230,"f":2510,"z":0.045},{"T":230,"f":3160,"z":0.045},{"T":230,"f":3980,"z":0.05},{"T":230,"f":5010,"z":0.05},{"T":230,"f":6310,"z":0.05},{"T":230,"f":7940,"z":0.05},{"T":230,"f":1e4,"z":0.05},{"T":230,"f":1.26e4,"z":0.05},{"T":230,"f":1.58e4,"z":0.045},{"T":230,"f":2e4,"z":0.045},{"T":230,"f":2.51e4,"z":0.04},{"T":230,"f":3.16e4,"z":0.04},{"T":230,"f":3.98e4,"z":0.035},{"T":230,"f":5.01e4,"z":0.035},{"T":230,"f":6.31e4,"z":0.03},{"T":230,"f":7.94e4,"z":0.03},{"T":230,"f":1e5,"z":0.025},{"T":230,"f":1.26e5,"z":0.025},{"T":230,"f":1.58e5,"z":0.02},{"T":230,"f":2e5,"z":0.02},{"T":230,"f":2.51e5,"z":0.02},{"T":230,"f":3.16e5,"z":0.02},{"T":230,"f":3.98e5,"z":0.02},{"T":230,"f":5.01e5,"z":0.02},{"T":230,"f":6.31e5,"z":0.02},{"T":230,"f":7.94e5,"z":0.02},{"T":230,"f":1e6,"z":0.02},
{"T":240,"f":100,"z":0.01},{"T":240,"f":126,"z":0.01},{"T":240,"f":158,"z":0.01},{"T":240,"f":200,"z":0.01},{"T":240,"f":251,"z":0.01},{"T":240,"f":316,"z":0.01},{"T":240,"f":398,"z":0.01},{"T":240,"f":501,"z":0.01},{"T":240,"f":631,"z":0.01},{"T":240,"f":794,"z":0.01},{"T":240,"f":1000,"z":0.015},{"T":240,"f":1260,"z":0.015},{"T":240,"f":1580,"z":0.015},{"T":240,"f":2000,"z":0.015},{"T":240,"f":2510,"z":0.015},{"T":240,"f":3160,"z":0.015},{"T":240,"f":3980,"z":0.015},{"T":240,"f":5010,"z":0.015},{"T":240,"f":6310,"z":0.015},{"T":240,"f":7940,"z":0.015},{"T":240,"f":1e4,"z":0.02},{"T":240,"f":1.26e4,"z":0.02},{"T":240,"f":1.58e4,"z":0.02},{"T":240,"f":2e4,"z":0.02},{"T":240,"f":2.51e4,"z":0.02},{"T":240,"f":3.16e4,"z":0.02},{"T":240,"f":3.98e4,"z":0.02},{"T":240,"f":5.01e4,"z":0.02},{"T":240,"f":6.31e4,"z":0.02},{"T":240,"f":7.94e4,"z":0.02},{"T":240,"f":1e5,"z":0.02},{"T":240,"f":1.26e5,"z":0.02},{"T":240,"f":1.58e5,"z":0.02},{"T":240,"f":2e5,"z":0.02},{"T":240,"f":2.51e5,"z":0.02},{"T":240,"f":3.16e5,"z":0.02},{"T":240,"f":3.98e5,"z":0.015},{"T":240,"f":5.01e5,"z":0.015},{"T":240,"f":6.31e5,"z":0.015},{"T":240,"f":7.94e5,"z":0.015},{"T":240,"f":1e6,"z":0.015},
{"T":250,"f":100,"z":0},{"T":250,"f":126,"z":0},{"T":250,"f":158,"z":0},{"T":250,"f":200,"z":0},{"T":250,"f":251,"z":0},{"T":250,"f":316,"z":0},{"T":250,"f":398,"z":0},{"T":250,"f":501,"z":0},{"T":250,"f":631,"z":0},{"T":250,"f":794,"z":0},{"T":250,"f":1000,"z":0},{"T":250,"f":1260,"z":0},{"T":250,"f":1580,"z":0},{"T":250,"f":2000,"z":0},{"T":250,"f":2510,"z":0},{"T":250,"f":3160,"z":0},{"T":250,"f":3980,"z":0},{"T":250,"f":5010,"z":0},{"T":250,"f":6310,"z":0},{"T":250,"f":7940,"z":0},{"T":250,"f":1e4,"z":0},{"T":250,"f":1.26e4,"z":0},{"T":250,"f":1.58e4,"z":0},{"T":250,"f":2e4,"z":0},{"T":250,"f":2.51e4,"z":0},{"T":250,"f":3.16e4,"z":0},{"T":250,"f":3.98e4,"z":0},{"T":250,"f":5.01e4,"z":0},{"T":250,"f":6.31e4,"z":0},{"T":250,"f":7.94e4,"z":0},{"T":250,"f":1e5,"z":0},{"T":250,"f":1.26e5,"z":0},{"T":250,"f":1.58e5,"z":0},{"T":250,"f":2e5,"z":0},{"T":250,"f":2.51e5,"z":0},{"T":250,"f":3.16e5,"z":0},{"T":250,"f":3.98e5,"z":0},{"T":250,"f":5.01e5,"z":0},{"T":250,"f":6.31e5,"z":0},{"T":250,"f":7.94e5,"z":0},{"T":250,"f":1e6,"z":0}
],
"ia":[
{"T":260,"f":100,"z":0.0003},{"T":260,"f":126,"z":0.0004},{"T":260,"f":158,"z":0.0005},{"T":260,"f":200,"z":0.0006},{"T":260,"f":251,"z":0.0008},{"T":260,"f":316,"z":0.0009},{"T":260,"f":398,"z":0.0011},{"T":260,"f":501,"z":0.0013},{"T":260,"f":631,"z":0.0015},{"T":260,"f":794,"z":0.0017},{"T":260,"f":1000,"z":0.002},{"T":260,"f":1260,"z":0.0024},{"T":260,"f":1580,"z":0.0029},{"T":260,"f":2000,"z":0.0036},{"T":260,"f":2510,"z":0.0045},{"T":260,"f":3160,"z":0.0055},{"T":260,"f":3980,"z":0.0075},{"T":260,"f":5010,"z":0.0098},{"T":260,"f":6310,"z":0.0138},{"T":260,"f":7940,"z":0.0177},{"T":260,"f":1e4,"z":0.0216},{"T":260,"f":1.26e4,"z":0.0255},{"T":260,"f":1.58e4,"z":0.029},{"T":260,"f":2e4,"z":0.0318},{"T":260,"f":2.51e4,"z":0.0332},{"T":260,"f":3.16e4,"z":0.0333},{"T":260,"f":3.98e4,"z":0.0325},{"T":260,"f":5.01e4,"z":0.0308},{"T":260,"f":6.31e4,"z":0.0278},{"T":260,"f":7.94e4,"z":0.0244},{"T":260,"f":1e5,"z":0.0207},{"T":260,"f":1.26e5,"z":0.0178},{"T":260,"f":1.58e5,"z":0.0147},{"T":260,"f":2e5,"z":0.012},{"T":260,"f":2.51e5,"z":0.0099},{"T":260,"f":3.16e5,"z":0.0078},{"T":260,"f":3.98e5,"z":0.0062},{"T":260,"f":5.01e5,"z":0.0048},{"T":260,"f":6.31e5,"z":0.0038},{"T":260,"f":7.94e5,"z":0.003},{"T":260,"f":1e6,"z":0.0025},
{"T":270,"f":100,"z":0.0002},{"T":270,"f":126,"z":0.0002},{"T":270,"f":158,"z":0.0003},{"T":270,"f":200,"z":0.0003},{"T":270,"f":251,"z":0.0003},{"T":270,"f":316,"z":0.0004},{"T":270,"f":398,"z":0.0004},{"T":270,"f":501,"z":0.0005},{"T":270,"f":631,"z":0.0005},{"T":270,"f":794,"z":0.0006},{"T":270,"f":1000,"z":0.0007},{"T":270,"f":1260,"z":0.0009},{"T":270,"f":1580,"z":0.0012},{"T":270,"f":2000,"z":0.0014},{"T":270,"f":2510,"z":0.0017},{"T":270,"f":3160,"z":0.0024},{"T":270,"f":3980,"z":0.0031},{"T":270,"f":5010,"z":0.004},{"T":270,"f":6310,"z":0.0052},{"T":270,"f":7940,"z":0.0066},{"T":270,"f":1e4,"z":0.0089},{"T":270,"f":1.26e4,"z":0.0112},{"T":270,"f":1.58e4,"z":0.0134},{"T":270,"f":2e4,"z":0.0157},{"T":270,"f":2.51e4,"z":0.018},{"T":270,"f":3.16e4,"z":0.0197},{"T":270,"f":3.98e4,"z":0.021},{"T":270,"f":5.01e4,"z":0.0214},{"T":270,"f":6.31e4,"z":0.0205},{"T":270,"f":7.94e4,"z":0.0191},{"T":270,"f":1e5,"z":0.0175},{"T":270,"f":1.26e5,"z":0.0157},{"T":270,"f":1.58e5,"z":0.0138},{"T":270,"f":2e5,"z":0.0118},{"T":270,"f":2.51e5,"z":0.0101},{"T":270,"f":3.16e5,"z":0.0082},{"T":270,"f":3.98e5,"z":0.0067},{"T":270,"f":5.01e5,"z":0.0054},{"T":270,"f":6.31e5,"z":0.0043},{"T":270,"f":7.94e5,"z":0.0035},{"T":270,"f":1e6,"z":0.0028},
{"T":280,"f":100,"z":0.0001},{"T":280,"f":126,"z":0.0001},{"T":280,"f":158,"z":0.0001},{"T":280,"f":200,"z":0.0002},{"T":280,"f":251,"z":0.0002},{"T":280,"f":316,"z":0.0002},{"T":280,"f":398,"z":0.0003},{"T":280,"f":501,"z":0.0003},{"T":280,"f":631,"z":0.0004},{"T":280,"f":794,"z":0.0004},{"T":280,"f":1000,"z":0.0005},{"T":280,"f":1260,"z":0.0006},{"T":280,"f":1580,"z":0.0008},{"T":280,"f":2000,"z":0.001},{"T":280,"f":2510,"z":0.0013},{"T":280,"f":3160,"z":0.0017},{"T":280,"f":3980,"z":0.0021},{"T":280,"f":5010,"z":0.0027},{"T":280,"f":6310,"z":0.0034},{"T":280,"f":7940,"z":0.0042},{"T":280,"f":1e4,"z":0.0051},{"T":280,"f":1.26e4,"z":0.0062},{"T":280,"f":1.58e4,"z":0.0074},{"T":280,"f":2e4,"z":0.0088},{"T":280,"f":2.51e4,"z":0.0101},{"T":280,"f":3.16e4,"z":0.0113},{"T":280,"f":3.98e4,"z":0.0123},{"T":280,"f":5.01e4,"z":0.0129},{"T":280,"f":6.31e4,"z":0.0131},{"T":280,"f":7.94e4,"z":0.0129},{"T":280,"f":1e5,"z":0.0123},{"T":280,"f":1.26e5,"z":0.0114},{"T":280,"f":1.58e5,"z":0.0102},{"T":280,"f":2e5,"z":0.0089},{"T":280,"f":2.51e5,"z":0.0077},{"T":280,"f":3.16e5,"z":0.0065},{"T":280,"f":3.98e5,"z":0.0054},{"T":280,"f":5.01e5,"z":0.0045},{"T":280,"f":6.31e5,"z":0.0037},{"T":280,"f":7.94e5,"z":0.0031},{"T":280,"f":1e6,"z":0.0026},
{"T":290,"f":100,"z":0.0001},{"T":290,"f":126,"z":0.0001},{"T":290,"f":158,"z":0.0001},{"T":290,"f":200,"z":0.0001},{"T":290,"f":251,"z":0.0001},{"T":290,"f":316,"z":0.0002},{"T":290,"f":398,"z":0.0002},{"T":290,"f":501,"z":0.0002},{"T":290,"f":631,"z":0.0002},{"T":290,"f":794,"z":0.0003},{"T":290,"f":1000,"z":0.0003},{"T":290,"f":1260,"z":0.0003},{"T":290,"f":1580,"z":0.0004},{"T":290,"f":2000,"z":0.0005},{"T":290,"f":2510,"z":0.0006},{"T":290,"f":3160,"z":0.0008},{"T":290,"f":3980,"z":0.001},{"T":290,"f":5010,"z":0.0012},{"T":290,"f":6310,"z":0.0015},{"T":290,"f":7940,"z":0.0019},{"T":290,"f":1e4,"z":0.0023},{"T":290,"f":1.26e4,"z":0.0029},{"T":290,"f":1.58e4,"z":0.0035},{"T":290,"f":2e4,"z":0.0043},{"T":290,"f":2.51e4,"z":0.0051},{"T":290,"f":3.16e4,"z":0.006},{"T":290,"f":3.98e4,"z":0.0069},{"T":290,"f":5.01e4,"z":0.0077},{"T":290,"f":6.31e4,"z":0.0084},{"T":290,"f":7.94e4,"z":0.0088},{"T":290,"f":1e5,"z":0.0089},{"T":290,"f":1.26e5,"z":0.0087},{"T":290,"f":1.58e5,"z":0.0082},{"T":290,"f":2e5,"z":0.0075},{"T":290,"f":2.51e5,"z":0.0066},{"T":290,"f":3.16e5,"z":0.0057},{"T":290,"f":3.98e5,"z":0.0049},{"T":290,"f":5.01e5,"z":0.0041},{"T":290,"f":6.31e5,"z":0.0034},{"T":290,"f":7.94e5,"z":0.0028},{"T":290,"f":1e6,"z":0.0024},
{"T":300,"f":100,"z":0.0001},{"T":300,"f":126,"z":0.0001},{"T":300,"f":158,"z":0.0001},{"T":300,"f":200,"z":0.0001},{"T":300,"f":251,"z":0.0001},{"T":300,"f":316,"z":0.0001},{"T":300,"f":398,"z":0.0001},{"T":300,"f":501,"z":0.0001},{"T":300,"f":631,"z":0.0001},{"T":300,"f":794,"z":0.0001},{"T":300,"f":1000,"z":0.0001},{"T":300,"f":1260,"z":0.0002},{"T":300,"f":1580,"z":0.0002},{"T":300,"f":2000,"z":0.0003},{"T":300,"f":2510,"z":0.0004},{"T":300,"f":3160,"z":0.0005},{"T":300,"f":3980,"z":0.0006},{"T":300,"f":5010,"z":0.0007},{"T":300,"f":6310,"z":0.0008},{"T":300,"f":7940,"z":0.001},{"T":300,"f":1e4,"z":0.0012},{"T":300,"f":1.26e4,"z":0.0014},{"T":300,"f":1.58e4,"z":0.0017},{"T":300,"f":2e4,"z":0.002},{"T":300,"f":2.51e4,"z":0.0024},{"T":300,"f":3.16e4,"z":0.0029},{"T":300,"f":3.98e4,"z":0.0034},{"T":300,"f":5.01e4,"z":0.0039},{"T":300,"f":6.31e4,"z":0.0045},{"T":300,"f":7.94e4,"z":0.005},{"T":300,"f":1e5,"z":0.0054},{"T":300,"f":1.26e5,"z":0.0057},{"T":300,"f":1.58e5,"z":0.0058},{"T":300,"f":2e5,"z":0.0057},{"T":300,"f":2.51e5,"z":0.0053},{"T":300,"f":3.16e5,"z":0.0048},{"T":300,"f":3.98e5,"z":0.0042},{"T":300,"f":5.01e5,"z":0.0036},{"T":300,"f":6.31e5,"z":0.0031},{"T":300,"f":7.94e5,"z":0.0026},{"T":300,"f":1e6,"z":0.0022},
{"T":310,"f":100,"z":0.0001},{"T":310,"f":126,"z":0.0001},{"T":310,"f":158,"z":0.0001},{"T":310,"f":200,"z":0.0001},{"T":310,"f":251,"z":0.0001},{"T":310,"f":316,"z":0.0001},{"T":310,"f":398,"z":0.0001},{"T":310,"f":501,"z":0.0001},{"T":310,"f":631,"z":0.0001},{"T":310,"f":794,"z":0.0001},{"T":310,"f":1000,"z":0.0001},{"T":310,"f":1260,"z":0.0001},{"T":310,"f":1580,"z":0.0001},{"T":310,"f":2000,"z":0.0001},{"T":310,"f":2510,"z":0.0001},{"T":310,"f":3160,"z":0.0002},{"T":310,"f":3980,"z":0.0002},{"T":310,"f":5010,"z":0.0003},{"T":310,"f":6310,"z":0.0003},{"T":310,"f":7940,"z":0.0004},{"T":310,"f":1e4,"z":0.0005},{"T":310,"f":1.26e4,"z":0.0006},{"T":310,"f":1.58e4,"z":0.0007},{"T":310,"f":2e4,"z":0.0009},{"T":310,"f":2.51e4,"z":0.0011},{"T":310,"f":3.16e4,"z":0.0013},{"T":310,"f":3.98e4,"z":0.0016},{"T":310,"f":5.01e4,"z":0.0019},{"T":310,"f":6.31e4,"z":0.0023},{"T":310,"f":7.94e4,"z":0.0027},{"T":310,"f":1e5,"z":0.0031},{"T":310,"f":1.26e5,"z":0.0034},{"T":310,"f":1.58e5,"z":0.0036},{"T":310,"f":2e5,"z":0.0038},{"T":310,"f":2.51e5,"z":0.0038},{"T":310,"f":3.16e5,"z":0.0037},{"T":310,"f":3.98e5,"z":0.0035},{"T":310,"f":5.01e5,"z":0.0032},{"T":310,"f":6.31e5,"z":0.0028},{"T":310,"f":7.94e5,"z":0.0024},{"T":310,"f":1e6,"z":0.0021},
{"T":320,"f":100,"z":0.0001},{"T":320,"f":126,"z":0.0001},{"T":320,"f":158,"z":0.0001},{"T":320,"f":200,"z":0.0001},{"T":320,"f":251,"z":0.0001},{"T":320,"f":316,"z":0.0001},{"T":320,"f":398,"z":0.0001},{"T":320,"f":501,"z":0.0001},{"T":320,"f":631,"z":0.0001},{"T":320,"f":794,"z":0.0001},{"T":320,"f":1000,"z":0.0001},{"T":320,"f":1260,"z":0.0001},{"T":320,"f":1580,"z":0.0001},{"T":320,"f":2000,"z":0.0001},{"T":320,"f":2510,"z":0.0001},{"T":320,"f":3160,"z":0.0002},{"T":320,"f":3980,"z":0.0002},{"T":320,"f":5010,"z":0.0002},{"T":320,"f":6310,"z":0.0002},{"T":320,"f":7940,"z":0.0002},{"T":320,"f":1e4,"z":0.0003},{"T":320,"f":1.26e4,"z":0.0004},{"T":320,"f":1.58e4,"z":0.0005},{"T":320,"f":2e4,"z":0.0006},{"T":320,"f":2.51e4,"z":0.0007},{"T":320,"f":3.16e4,"z":0.0009},{"T":320,"f":3.98e4,"z":0.0011},{"T":320,"f":5.01e4,"z":0.0013},{"T":320,"f":6.31e4,"z":0.0015},{"T":320,"f":7.94e4,"z":0.0018},{"T":320,"f":1e5,"z":0.002},{"T":320,"f":1.26e5,"z":0.0022},{"T":320,"f":1.58e5,"z":0.0024},{"T":320,"f":2e5,"z":0.0026},{"T":320,"f":2.51e5,"z":0.0027},{"T":320,"f":3.16e5,"z":0.0028},{"T":320,"f":3.98e5,"z":0.0028},{"T":320,"f":5.01e5,"z":0.0027},{"T":320,"f":6.31e5,"z":0.0025},{"T":320,"f":7.94e5,"z":0.0022},{"T":320,"f":1e6,"z":0.002},
{"T":330,"f":100,"z":0.0001},{"T":330,"f":126,"z":0.0001},{"T":330,"f":158,"z":0.0001},{"T":330,"f":200,"z":0.0001},{"T":330,"f":251,"z":0.0001},{"T":330,"f":316,"z":0.0001},{"T":330,"f":398,"z":0.0001},{"T":330,"f":501,"z":0.0001},{"T":330,"f":631,"z":0.0001},{"T":330,"f":794,"z":0.0001},{"T":330,"f":1000,"z":0.0001},{"T":330,"f":1260,"z":0.0001},{"T":330,"f":1580,"z":0.0001},{"T":330,"f":2000,"z":0.0001},{"T":330,"f":2510,"z":0.0001},{"T":330,"f":3160,"z":0.0001},{"T":330,"f":3980,"z":0.0001},{"T":330,"f":5010,"z":0.0001},{"T":330,"f":6310,"z":0.0001},{"T":330,"f":7940,"z":0.0001},{"T":330,"f":1e4,"z":0.0002},{"T":330,"f":1.26e4,"z":0.0003},{"T":330,"f":1.58e4,"z":0.0003},{"T":330,"f":2e4,"z":0.0004},{"T":330,"f":2.51e4,"z":0.0005},{"T":330,"f":3.16e4,"z":0.0006},{"T":330,"f":3.98e4,"z":0.0008},{"T":330,"f":5.01e4,"z":0.0009},{"T":330,"f":6.31e4,"z":0.0011},{"T":330,"f":7.94e4,"z":0.0013},{"T":330,"f":1e5,"z":0.0015},{"T":330,"f":1.26e5,"z":0.0017},{"T":330,"f":1.58e5,"z":0.0019},{"T":330,"f":2e5,"z":0.0021},{"T":330,"f":2.51e5,"z":0.0023},{"T":330,"f":3.16e5,"z":0.0024},{"T":330,"f":3.98e5,"z":0.0024},{"T":330,"f":5.01e5,"z":0.0024},{"T":330,"f":6.31e5,"z":0.0023},{"T":330,"f":7.94e5,"z":0.0021},{"T":330,"f":1e6,"z":0.0019},
{"T":340,"f":100,"z":0.00005},{"T":340,"f":126,"z":0.00005},{"T":340,"f":158,"z":0.00005},{"T":340,"f":200,"z":0.00005},{"T":340,"f":251,"z":0.00005},{"T":340,"f":316,"z":0.00005},{"T":340,"f":398,"z":0.00005},{"T":340,"f":501,"z":0.00005},{"T":340,"f":631,"z":0.00005},{"T":340,"f":794,"z":0.00005},{"T":340,"f":1000,"z":0.00005},{"T":340,"f":1260,"z":0.00005},{"T":340,"f":1580,"z":0.00005},{"T":340,"f":2000,"z":0.00005},{"T":340,"f":2510,"z":0.00005},{"T":340,"f":3160,"z":0.00005},{"T":340,"f":3980,"z":0.00005},{"T":340,"f":5010,"z":0.00005},{"T":340,"f":6310,"z":0.00005},{"T":340,"f":7940,"z":0.00005},{"T":340,"f":1e4,"z":0.0002},{"T":340,"f":1.26e4,"z":0.0002},{"T":340,"f":1.58e4,"z":0.0003},{"T":340,"f":2e4,"z":0.0003},{"T":340,"f":2.51e4,"z":0.0004},{"T":340,"f":3.16e4,"z":0.0005},{"T":340,"f":3.98e4,"z":0.0006},{"T":340,"f":5.01e4,"z":0.0007},{"T":340,"f":6.31e4,"z":0.0009},{"T":340,"f":7.94e4,"z":0.001},{"T":340,"f":1e5,"z":0.0012},{"T":340,"f":1.26e5,"z":0.0014},{"T":340,"f":1.58e5,"z":0.0016},{"T":340,"f":2e5,"z":0.0018},{"T":340,"f":2.51e5,"z":0.002},{"T":340,"f":3.16e5,"z":0.0021},{"T":340,"f":3.98e5,"z":0.0022},{"T":340,"f":5.01e5,"z":0.0022},{"T":340,"f":6.31e5,"z":0.0021},{"T":340,"f":7.94e5,"z":0.002},{"T":340,"f":1e6,"z":0.0018},
{"T":350,"f":100,"z":0},{"T":350,"f":126,"z":0},{"T":350,"f":158,"z":0},{"T":350,"f":200,"z":0},{"T":350,"f":251,"z":0},{"T":350,"f":316,"z":0},{"T":350,"f":398,"z":0},{"T":350,"f":501,"z":0},{"T":350,"f":631,"z":0},{"T":350,"f":794,"z":0},{"T":350,"f":1000,"z":0},{"T":350,"f":1260,"z":0},{"T":350,"f":1580,"z":0},{"T":350,"f":2000,"z":0},{"T":350,"f":2510,"z":0},{"T":350,"f":3160,"z":0},{"T":350,"f":3980,"z":0},{"T":350,"f":5010,"z":0},{"T":350,"f":6310,"z":0},{"T":350,"f":7940,"z":0},{"T":350,"f":1e4,"z":0.0001},{"T":350,"f":1.26e4,"z":0.0001},{"T":350,"f":1.58e4,"z":0.0001},{"T":350,"f":2e4,"z":0.0002},{"T":350,"f":2.51e4,"z":0.0002},{"T":350,"f":3.16e4,"z":0.0003},{"T":350,"f":3.98e4,"z":0.0004},{"T":350,"f":5.01e4,"z":0.0005},{"T":350,"f":6.31e4,"z":0.0006},{"T":350,"f":7.94e4,"z":0.0008},{"T":350,"f":1e5,"z":0.0009},{"T":350,"f":1.26e5,"z":0.0012},{"T":350,"f":1.58e5,"z":0.0014},{"T":350,"f":2e5,"z":0.0016},{"T":350,"f":2.51e5,"z":0.0017},{"T":350,"f":3.16e5,"z":0.0018},{"T":350,"f":3.98e5,"z":0.0019},{"T":350,"f":5.01e5,"z":0.0019},{"T":350,"f":6.31e5,"z":0.0018},{"T":350,"f":7.94e5,"z":0.0017},{"T":350,"f":1e6,"z":0.0016}
],
"ib":[
{"T":260,"f":100,"z":0.0001},{"T":260,"f":126,"z":0.0001},{"T":260,"f":158,"z":0.0001},{"T":260,"f":200,"z":0.0001},{"T":260,"f":251,"z":0.0002},{"T":260,"f":316,"z":0.0002},{"T":260,"f":398,"z":0.0003},{"T":260,"f":501,"z":0.0003},{"T":260,"f":631,"z":0.0004},{"T":260,"f":794,"z":0.0005},{"T":260,"f":1000,"z":0.0007},{"T":260,"f":1260,"z":0.0009},{"T":260,"f":1580,"z":0.0011},{"T":260,"f":2000,"z":0.0013},{"T":260,"f":2510,"z":0.0016},{"T":260,"f":3160,"z":0.002},{"T":260,"f":3980,"z":0.0025},{"T":260,"f":5010,"z":0.0032},{"T":260,"f":6310,"z":0.004},{"T":260,"f":7940,"z":0.0048},{"T":260,"f":1e4,"z":0.0057},{"T":260,"f":1.26e4,"z":0.0066},{"T":260,"f":1.58e4,"z":0.0073},{"T":260,"f":2e4,"z":0.0079},{"T":260,"f":2.51e4,"z":0.0083},{"T":260,"f":3.16e4,"z":0.0085},{"T":260,"f":3.98e4,"z":0.0084},{"T":260,"f":5.01e4,"z":0.008},{"T":260,"f":6.31e4,"z":0.0074},{"T":260,"f":7.94e4,"z":0.0067},{"T":260,"f":1e5,"z":0.006},{"T":260,"f":1.26e5,"z":0.0054},{"T":260,"f":1.58e5,"z":0.0048},{"T":260,"f":2e5,"z":0.0042},{"T":260,"f":2.51e5,"z":0.0036},{"T":260,"f":3.16e5,"z":0.0032},{"T":260,"f":3.98e5,"z":0.0028},{"T":260,"f":5.01e5,"z":0.0024},{"T":260,"f":6.31e5,"z":0.002},{"T":260,"f":7.94e5,"z":0.0016},{"T":260,"f":1e6,"z":0.0013},
{"T":270,"f":100,"z":0.0001},{"T":270,"f":126,"z":0.0001},{"T":270,"f":158,"z":0.0001},{"T":270,"f":200,"z":0.0001},{"T":270,"f":251,"z":0.0001},{"T":270,"f":316,"z":0.0001},{"T":270,"f":398,"z":0.0002},{"T":270,"f":501,"z":0.0002},{"T":270,"f":631,"z":0.0002},{"T":270,"f":794,"z":0.0003},{"T":270,"f":1000,"z":0.0003},{"T":270,"f":1260,"z":0.0004},{"T":270,"f":1580,"z":0.0005},{"T":270,"f":2000,"z":0.0007},{"T":270,"f":2510,"z":0.0009},{"T":270,"f":3160,"z":0.0011},{"T":270,"f":3980,"z":0.0014},{"T":270,"f":5010,"z":0.0018},{"T":270,"f":6310,"z":0.0022},{"T":270,"f":7940,"z":0.0027},{"T":270,"f":1e4,"z":0.0032},{"T":270,"f":1.26e4,"z":0.0038},{"T":270,"f":1.58e4,"z":0.0043},{"T":270,"f":2e4,"z":0.0047},{"T":270,"f":2.51e4,"z":0.0051},{"T":270,"f":3.16e4,"z":0.0055},{"T":270,"f":3.98e4,"z":0.0058},{"T":270,"f":5.01e4,"z":0.0059},{"T":270,"f":6.31e4,"z":0.0057},{"T":270,"f":7.94e4,"z":0.0053},{"T":270,"f":1e5,"z":0.005},{"T":270,"f":1.26e5,"z":0.0043},{"T":270,"f":1.58e5,"z":0.0038},{"T":270,"f":2e5,"z":0.0033},{"T":270,"f":2.51e5,"z":0.0029},{"T":270,"f":3.16e5,"z":0.0024},{"T":270,"f":3.98e5,"z":0.0021},{"T":270,"f":5.01e5,"z":0.0018},{"T":270,"f":6.31e5,"z":0.0016},{"T":270,"f":7.94e5,"z":0.0013},{"T":270,"f":1e6,"z":0.0011},
{"T":280,"f":100,"z":0.0001},{"T":280,"f":126,"z":0.0001},{"T":280,"f":158,"z":0.0001},{"T":280,"f":200,"z":0.0001},{"T":280,"f":251,"z":0.0001},{"T":280,"f":316,"z":0.0001},{"T":280,"f":398,"z":0.0001},{"T":280,"f":501,"z":0.0001},{"T":280,"f":631,"z":0.0001},{"T":280,"f":794,"z":0.0001},{"T":280,"f":1000,"z":0.0001},{"T":280,"f":1260,"z":0.0002},{"T":280,"f":1580,"z":0.0002},{"T":280,"f":2000,"z":0.0003},{"T":280,"f":2510,"z":0.0003},{"T":280,"f":3160,"z":0.0004},{"T":280,"f":3980,"z":0.0005},{"T":280,"f":5010,"z":0.0006},{"T":280,"f":6310,"z":0.0008},{"T":280,"f":7940,"z":0.001},{"T":280,"f":1e4,"z":0.0012},{"T":280,"f":1.26e4,"z":0.0015},{"T":280,"f":1.58e4,"z":0.0018},{"T":280,"f":2e4,"z":0.0021},{"T":280,"f":2.51e4,"z":0.0025},{"T":280,"f":3.16e4,"z":0.0029},{"T":280,"f":3.98e4,"z":0.0032},{"T":280,"f":5.01e4,"z":0.0034},{"T":280,"f":6.31e4,"z":0.0036},{"T":280,"f":7.94e4,"z":0.0037},{"T":280,"f":1e5,"z":0.0036},{"T":280,"f":1.26e5,"z":0.0034},{"T":280,"f":1.58e5,"z":0.0031},{"T":280,"f":2e5,"z":0.0028},{"T":280,"f":2.51e5,"z":0.0025},{"T":280,"f":3.16e5,"z":0.0022},{"T":280,"f":3.98e5,"z":0.002},{"T":280,"f":5.01e5,"z":0.0017},{"T":280,"f":6.31e5,"z":0.0015},{"T":280,"f":7.94e5,"z":0.0013},{"T":280,"f":1e6,"z":0.0011},
{"T":290,"f":100,"z":0.0001},{"T":290,"f":126,"z":0.0001},{"T":290,"f":158,"z":0.0001},{"T":290,"f":200,"z":0.0001},{"T":290,"f":251,"z":0.0001},{"T":290,"f":316,"z":0.0001},{"T":290,"f":398,"z":0.0001},{"T":290,"f":501,"z":0.0001},{"T":290,"f":631,"z":0.0001},{"T":290,"f":794,"z":0.0001},{"T":290,"f":1000,"z":0.0001},{"T":290,"f":1260,"z":0.0001},{"T":290,"f":1580,"z":0.0001},{"T":290,"f":2000,"z":0.0001},{"T":290,"f":2510,"z":0.0001},{"T":290,"f":3160,"z":0.0002},{"T":290,"f":3980,"z":0.0002},{"T":290,"f":5010,"z":0.0003},{"T":290,"f":6310,"z":0.0004},{"T":290,"f":7940,"z":0.0005},{"T":290,"f":1e4,"z":0.0006},{"T":290,"f":1.26e4,"z":0.0008},{"T":290,"f":1.58e4,"z":0.001},{"T":290,"f":2e4,"z":0.0012},{"T":290,"f":2.51e4,"z":0.0015},{"T":290,"f":3.16e4,"z":0.0018},{"T":290,"f":3.98e4,"z":0.002},{"T":290,"f":5.01e4,"z":0.0022},{"T":290,"f":6.31e4,"z":0.0024},{"T":290,"f":7.94e4,"z":0.0025},{"T":290,"f":1e5,"z":0.0025},{"T":290,"f":1.26e5,"z":0.0025},{"T":290,"f":1.58e5,"z":0.0023},{"T":290,"f":2e5,"z":0.0021},{"T":290,"f":2.51e5,"z":0.0019},{"T":290,"f":3.16e5,"z":0.0017},{"T":290,"f":3.98e5,"z":0.0015},{"T":290,"f":5.01e5,"z":0.0013},{"T":290,"f":6.31e5,"z":0.0011},{"T":290,"f":7.94e5,"z":0.001},{"T":290,"f":1e6,"z":0.0009},
{"T":300,"f":100,"z":0.0001},{"T":300,"f":126,"z":0.0001},{"T":300,"f":158,"z":0.0001},{"T":300,"f":200,"z":0.0001},{"T":300,"f":251,"z":0.0001},{"T":300,"f":316,"z":0.0001},{"T":300,"f":398,"z":0.0001},{"T":300,"f":501,"z":0.0001},{"T":300,"f":631,"z":0.0001},{"T":300,"f":794,"z":0.0001},{"T":300,"f":1000,"z":0.0001},{"T":300,"f":1260,"z":0.0001},{"T":300,"f":1580,"z":0.0001},{"T":300,"f":2000,"z":0.0001},{"T":300,"f":2510,"z":0.0001},{"T":300,"f":3160,"z":0.0001},{"T":300,"f":3980,"z":0.0001},{"T":300,"f":5010,"z":0.0001},{"T":300,"f":6310,"z":0.0001},{"T":300,"f":7940,"z":0.0002},{"T":300,"f":1e4,"z":0.0002},{"T":300,"f":1.26e4,"z":0.0003},{"T":300,"f":1.58e4,"z":0.0003},{"T":300,"f":2e4,"z":0.0004},{"T":300,"f":2.51e4,"z":0.0005},{"T":300,"f":3.16e4,"z":0.0006},{"T":300,"f":3.98e4,"z":0.0008},{"T":300,"f":5.01e4,"z":0.0009},{"T":300,"f":6.31e4,"z":0.0011},{"T":300,"f":7.94e4,"z":0.0013},{"T":300,"f":1e5,"z":0.0014},{"T":300,"f":1.26e5,"z":0.0015},{"T":300,"f":1.58e5,"z":0.0016},{"T":300,"f":2e5,"z":0.0016},{"T":300,"f":2.51e5,"z":0.0015},{"T":300,"f":3.16e5,"z":0.0014},{"T":300,"f":3.98e5,"z":0.0013},{"T":300,"f":5.01e5,"z":0.0011},{"T":300,"f":6.31e5,"z":0.001},{"T":300,"f":7.94e5,"z":0.0009},{"T":300,"f":1e6,"z":0.0008},
{"T":310,"f":100,"z":0.0001},{"T":310,"f":126,"z":0.0001},{"T":310,"f":158,"z":0.0001},{"T":310,"f":200,"z":0.0001},{"T":310,"f":251,"z":0.0001},{"T":310,"f":316,"z":0.0001},{"T":310,"f":398,"z":0.0001},{"T":310,"f":501,"z":0.0001},{"T":310,"f":631,"z":0.0001},{"T":310,"f":794,"z":0.0001},{"T":310,"f":1000,"z":0.0001},{"T":310,"f":1260,"z":0.0001},{"T":310,"f":1580,"z":0.0001},{"T":310,"f":2000,"z":0.0001},{"T":310,"f":2510,"z":0.0001},{"T":310,"f":3160,"z":0.0001},{"T":310,"f":3980,"z":0.0001},{"T":310,"f":5010,"z":0.0001},{"T":310,"f":6310,"z":0.0001},{"T":310,"f":7940,"z":0.0001},{"T":310,"f":1e4,"z":0.0001},{"T":310,"f":1.26e4,"z":0.0001},{"T":310,"f":1.58e4,"z":0.0001},{"T":310,"f":2e4,"z":0.0002},{"T":310,"f":2.51e4,"z":0.0002},{"T":310,"f":3.16e4,"z":0.0003},{"T":310,"f":3.98e4,"z":0.0003},{"T":310,"f":5.01e4,"z":0.0004},{"T":310,"f":6.31e4,"z":0.0005},{"T":310,"f":7.94e4,"z":0.0006},{"T":310,"f":1e5,"z":0.0007},{"T":310,"f":1.26e5,"z":0.0008},{"T":310,"f":1.58e5,"z":0.0009},{"T":310,"f":2e5,"z":0.001},{"T":310,"f":2.51e5,"z":0.001},{"T":310,"f":3.16e5,"z":0.001},{"T":310,"f":3.98e5,"z":0.001},{"T":310,"f":5.01e5,"z":0.0009},{"T":310,"f":6.31e5,"z":0.0008},{"T":310,"f":7.94e5,"z":0.0007},{"T":310,"f":1e6,"z":0.0006},
{"T":320,"f":100,"z":0.0001},{"T":320,"f":126,"z":0.0001},{"T":320,"f":158,"z":0.0001},{"T":320,"f":200,"z":0.0001},{"T":320,"f":251,"z":0.0001},{"T":320,"f":316,"z":0.0001},{"T":320,"f":398,"z":0.0001},{"T":320,"f":501,"z":0.0001},{"T":320,"f":631,"z":0.0001},{"T":320,"f":794,"z":0.0001},{"T":320,"f":1000,"z":0.0001},{"T":320,"f":1260,"z":0.0001},{"T":320,"f":1580,"z":0.0001},{"T":320,"f":2000,"z":0.0001},{"T":320,"f":2510,"z":0.0001},{"T":320,"f":3160,"z":0.0001},{"T":320,"f":3980,"z":0.0001},{"T":320,"f":5010,"z":0.0001},{"T":320,"f":6310,"z":0.0001},{"T":320,"f":7940,"z":0.0001},{"T":320,"f":1e4,"z":0.0001},{"T":320,"f":1.26e4,"z":0.0001},{"T":320,"f":1.58e4,"z":0.0001},{"T":320,"f":2e4,"z":0.0001},{"T":320,"f":2.51e4,"z":0.0001},{"T":320,"f":3.16e4,"z":0.0002},{"T":320,"f":3.98e4,"z":0.0002},{"T":320,"f":5.01e4,"z":0.0003},{"T":320,"f":6.31e4,"z":0.0003},{"T":320,"f":7.94e4,"z":0.0004},{"T":320,"f":1e5,"z":0.0004},{"T":320,"f":1.26e5,"z":0.0005},{"T":320,"f":1.58e5,"z":0.0005},{"T":320,"f":2e5,"z":0.0006},{"T":320,"f":2.51e5,"z":0.0006},{"T":320,"f":3.16e5,"z":0.0006},{"T":320,"f":3.98e5,"z":0.0006},{"T":320,"f":5.01e5,"z":0.0006},{"T":320,"f":6.31e5,"z":0.0006},{"T":320,"f":7.94e5,"z":0.0005},{"T":320,"f":1e6,"z":0.0005},
{"T":330,"f":100,"z":0.00005},{"T":330,"f":126,"z":0.00005},{"T":330,"f":158,"z":0.00005},{"T":330,"f":200,"z":0.00005},{"T":330,"f":251,"z":0.00005},{"T":330,"f":316,"z":0.00005},{"T":330,"f":398,"z":0.00005},{"T":330,"f":501,"z":0.00005},{"T":330,"f":631,"z":0.00005},{"T":330,"f":794,"z":0.00005},{"T":330,"f":1000,"z":0.00005},{"T":330,"f":1260,"z":0.00005},{"T":330,"f":1580,"z":0.00005},{"T":330,"f":2000,"z":0.00005},{"T":330,"f":2510,"z":0.00005},{"T":330,"f":3160,"z":0.00005},{"T":330,"f":3980,"z":0.00005},{"T":330,"f":5010,"z":0.00005},{"T":330,"f":6310,"z":0.00005},{"T":330,"f":7940,"z":0.00005},{"T":330,"f":1e4,"z":0.00005},{"T":330,"f":1.26e4,"z":0.00005},{"T":330,"f":1.58e4,"z":0.00005},{"T":330,"f":2e4,"z":0.00005},{"T":330,"f":2.51e4,"z":0.00005},{"T":330,"f":3.16e4,"z":0.00005},{"T":330,"f":3.98e4,"z":0.0001},{"T":330,"f":5.01e4,"z":0.0002},{"T":330,"f":6.31e4,"z":0.0002},{"T":330,"f":7.94e4,"z":0.0003},{"T":330,"f":1e5,"z":0.0003},{"T":330,"f":1.26e5,"z":0.0003},{"T":330,"f":1.58e5,"z":0.0004},{"T":330,"f":2e5,"z":0.0004},{"T":330,"f":2.51e5,"z":0.0005},{"T":330,"f":3.16e5,"z":0.0005},{"T":330,"f":3.98e5,"z":0.0005},{"T":330,"f":5.01e5,"z":0.0005},{"T":330,"f":6.31e5,"z":0.0005},{"T":330,"f":7.94e5,"z":0.0005},{"T":330,"f":1e6,"z":0.0005},
{"T":340,"f":100,"z":0},{"T":340,"f":126,"z":0},{"T":340,"f":158,"z":0},{"T":340,"f":200,"z":0},{"T":340,"f":251,"z":0},{"T":340,"f":316,"z":0},{"T":340,"f":398,"z":0},{"T":340,"f":501,"z":0},{"T":340,"f":631,"z":0},{"T":340,"f":794,"z":0},{"T":340,"f":1000,"z":0},{"T":340,"f":1260,"z":0},{"T":340,"f":1580,"z":0},{"T":340,"f":2000,"z":0},{"T":340,"f":2510,"z":0},{"T":340,"f":3160,"z":0},{"T":340,"f":3980,"z":0},{"T":340,"f":5010,"z":0},{"T":340,"f":6310,"z":0},{"T":340,"f":7940,"z":0},{"T":340,"f":1e4,"z":0},{"T":340,"f":1.26e4,"z":0},{"T":340,"f":1.58e4,"z":0},{"T":340,"f":2e4,"z":0},{"T":340,"f":2.51e4,"z":0},{"T":340,"f":3.16e4,"z":0},{"T":340,"f":3.98e4,"z":0},{"T":340,"f":5.01e4,"z":0.0001},{"T":340,"f":6.31e4,"z":0.0001},{"T":340,"f":7.94e4,"z":0.0002},{"T":340,"f":1e5,"z":0.0002},{"T":340,"f":1.26e5,"z":0.0003},{"T":340,"f":1.58e5,"z":0.0003},{"T":340,"f":2e5,"z":0.0003},{"T":340,"f":2.51e5,"z":0.0004},{"T":340,"f":3.16e5,"z":0.0004},{"T":340,"f":3.98e5,"z":0.0004},{"T":340,"f":5.01e5,"z":0.0004},{"T":340,"f":6.31e5,"z":0.0004},{"T":340,"f":7.94e5,"z":0.0004},{"T":340,"f":1e6,"z":0.0004},
{"T":350,"f":100,"z":0},{"T":350,"f":126,"z":0},{"T":350,"f":158,"z":0},{"T":350,"f":200,"z":0},{"T":350,"f":251,"z":0},{"T":350,"f":316,"z":0},{"T":350,"f":398,"z":0},{"T":350,"f":501,"z":0},{"T":350,"f":631,"z":0},{"T":350,"f":794,"z":0},{"T":350,"f":1000,"z":0},{"T":350,"f":1260,"z":0},{"T":350,"f":1580,"z":0},{"T":350,"f":2000,"z":0},{"T":350,"f":2510,"z":0},{"T":350,"f":3160,"z":0},{"T":350,"f":3980,"z":0},{"T":350,"f":5010,"z":0},{"T":350,"f":6310,"z":0},{"T":350,"f":7940,"z":0},{"T":350,"f":1e4,"z":0},{"T":350,"f":1.26e4,"z":0},{"T":350,"f":1.58e4,"z":0},{"T":350,"f":2e4,"z":0},{"T":350,"f":2.51e4,"z":0},{"T":350,"f":3.16e4,"z":0},{"T":350,"f":3.98e4,"z":0},{"T":350,"f":5.01e4,"z":0},{"T":350,"f":6.31e4,"z":0.0001},{"T":350,"f":7.94e4,"z":0.0001},{"T":350,"f":1e5,"z":0.0001},{"T":350,"f":1.26e5,"z":0.0002},{"T":350,"f":1.58e5,"z":0.0002},{"T":350,"f":2e5,"z":0.0002},{"T":350,"f":2.51e5,"z":0.0002},{"T":350,"f":3.16e5,"z":0.0003},{"T":350,"f":3.98e5,"z":0.0003},{"T":350,"f":5.01e5,"z":0.0003},{"T":350,"f":6.31e5,"z":0.0003},{"T":350,"f":7.94e5,"z":0.0003},{"T":350,"f":1e6,"z":0.0003}
]
},
"layer":[
{"layer":[
 {"data":{"values":[{}]},"mark":{"type":"rect","fill":"white","fillOpacity":0,"stroke":"black","strokeWidth":1.5},"encoding":{"x":{"datum":86,"scale":{"type":"log"}},"x2":{"datum":1080000},"y":{"datum":-0.5},"y2":{"datum":22}}},
 {"data":{"name":"ma"},"mark":{"type":"circle","size":62,"opacity":1},
  "encoding":{
   "x":{"field":"f","type":"quantitative","scale":{"type":"log","domain":[86,1080000],"range":[72,578],"nice":false},
     "axis":{"orient":"bottom","offset":-68,"values":[100,200,300,400,500,600,700,800,900,1000,2000,3000,4000,5000,6000,7000,8000,9000,10000,20000,30000,40000,50000,60000,70000,80000,90000,100000,200000,300000,400000,500000,600000,700000,800000,900000,1000000],
       "labelExpr":"datum.value==100?'10²':datum.value==1000?'10³':datum.value==10000?'10⁴':datum.value==100000?'10⁵':datum.value==1000000?'10⁶':''",
       "ticks":true,"tickSize":7,"labelPadding":11,"labelFont":"Liberation Serif","labelFontWeight":"bold","labelFontSize":17,
       "title":"Frequency (Hz)","titleFont":"DejaVu Sans","titleFontWeight":"bold","titleFontSize":15,"titleY":47,"titleBaseline":"top"}},
   "y":{"field":"z","type":"quantitative","scale":{"domain":[-0.5,22],"range":[385,8],"nice":false,"zero":false},
     "axis":{"orient":"left","offset":-79,"values":[0,2.5,5,7.5,10,12.5,15,17.5,20],
       "labelExpr":"datum.value % 5 == 0 ? format(datum.value,'d') : ''",
       "ticks":true,"tickSize":7,"labelPadding":9,"labelFont":"Liberation Serif","labelFontWeight":"bold","labelFontSize":17,
       "title":"Z\"x 10⁷ Ω","titleFont":"Liberation Serif","titleFontStyle":"italic","titleFontWeight":"bold","titleFontSize":22,"titleX":-46,"titleBaseline":"alphabetic","titleAngle":270}},
   "color":{"field":"T","type":"nominal","scale":{"domain":[150,160,170,180,190,200,210,220,230,240,250],"range":["#000000","#ee1111","#1515ee","#2f9a92","#f03cf0","#9a9a20","#14147e","#7d0f0f","#ee2f8f","#1f9a1f","#f7941d"]},
     "legend":{"orient":"none","legendX":135,"legendY":50,"direction":"vertical","title":null,"symbolType":"circle","symbolSize":80,"symbolStrokeWidth":0,"labelFont":"Liberation Serif","labelFontWeight":"bold","labelFontSize":10.5,"labelExpr":"datum.label + ' K'","padding":5,"symbolOffset":2,"labelOffset":5,"rowPadding":2.7,"strokeColor":"#777777","fillColor":"white"}}
  }},
 {"data":{"values":[{}]},"mark":{"type":"rect","fill":"black"},"encoding":{"x":{"datum":304.6,"scale":{"type":"log"}},"x2":{"datum":879.4},"y":{"datum":10.06},"y2":{"datum":19.19}}},
 {"data":{"values":[{}]},"mark":{"type":"rect","fill":"black"},"encoding":{"x":{"datum":164.9,"scale":{"type":"log"}},"x2":{"datum":801},"y":{"datum":19.85},"y2":{"datum":21.4}}},
 {"data":{"values":[{}]},"mark":{"type":"rect","fill":"white","stroke":"#999999","strokeWidth":1},"encoding":{"x":{"datum":150.3,"scale":{"type":"log"}},"x2":{"datum":703.6},"y":{"datum":20.21},"y2":{"datum":21.76}}},
 {"data":{"values":[{}]},"mark":{"type":"text","text":"LBFO900","font":"DejaVu Sans","fontSize":17,"color":"#e81ce8","align":"center","baseline":"middle"},"encoding":{"x":{"datum":322,"scale":{"type":"log"}},"y":{"datum":21.0}}},
 {"data":{"values":[{}]},"mark":{"type":"text","text":"(a)","font":"DejaVu Sans","fontSize":18,"fontWeight":"bold","color":"black","align":"center","baseline":"middle"},"encoding":{"x":{"datum":1020,"scale":{"type":"log"}},"y":{"datum":21.0}}}
]},
{"layer":[
 {"data":{"values":[{}]},"mark":{"type":"rect","fill":"white","stroke":"black","strokeWidth":1.3},"encoding":{"x":{"datum":85.7,"scale":{"type":"log"}},"x2":{"datum":1064000},"y":{"datum":-0.00173},"y2":{"datum":0.03766}}},
 {"data":{"values":[{}]},"mark":{"type":"rect","fill":"black"},"encoding":{"x":{"datum":154.5,"scale":{"type":"log"}},"x2":{"datum":1090},"y":{"datum":0.0177},"y2":{"datum":0.03606}}},
 {"data":{"name":"ia"},"mark":{"type":"circle","size":26,"opacity":1},
  "encoding":{
   "x":{"field":"f","type":"quantitative","scale":{"type":"log","domain":[85.7,1064000],"range":[265,569],"nice":false},
     "axis":{"orient":"bottom","offset":-129,"values":[100,200,300,400,500,600,700,800,900,1000,2000,3000,4000,5000,6000,7000,8000,9000,10000,20000,30000,40000,50000,60000,70000,80000,90000,100000,200000,300000,400000,500000,600000,700000,800000,900000,1000000],
       "labelExpr":"datum.value==100?'10²':datum.value==1000?'10³':datum.value==10000?'10⁴':datum.value==100000?'10⁵':datum.value==1000000?'10⁶':''",
       "ticks":true,"tickSize":5,"labelPadding":6,"labelFont":"Liberation Serif","labelFontWeight":"bold","labelFontSize":11,
       "title":"Frequency (Hz)","titleFont":"DejaVu Sans","titleFontWeight":"bold","titleFontSize":10.5,"titleY":27,"titleBaseline":"top"}},
   "y":{"field":"z","type":"quantitative","scale":{"domain":[-0.00173,0.03766],"range":[322,26],"nice":false,"zero":false},
     "axis":{"orient":"left","offset":-270,"values":[0,0.0025,0.005,0.0075,0.01,0.0125,0.015,0.0175,0.02,0.0225,0.025,0.0275,0.03,0.0325,0.035],
       "labelExpr":"abs(datum.value*200-round(datum.value*200))<0.001 ? format(datum.value,'.3f') : ''",
       "ticks":true,"tickSize":5,"labelPadding":7,"labelFont":"Liberation Serif","labelFontWeight":"bold","labelFontSize":11,
       "title":"Z\"x 10⁷ Ω","titleFont":"Liberation Serif","titleFontStyle":"italic","titleFontSize":15,"titleX":-38,"titleY":189,"titleBaseline":"alphabetic","titleAngle":270}},
   "color":{"field":"T","type":"nominal","scale":{"domain":[260,270,280,290,300,310,320,330,340,350],"range":["#000000","#ee1111","#1515ee","#2f9a92","#f03cf0","#9a9a20","#14147e","#7d0f0f","#ee2f8f","#1f9a1f"]},
     "legend":{"orient":"none","legendX":279,"legendY":33,"direction":"vertical","title":null,"symbolType":"circle","symbolSize":45,"symbolStrokeWidth":0,"labelFont":"Liberation Serif","labelFontWeight":"bold","labelFontSize":10.5,"labelExpr":"datum.label + ' K'","padding":3,"symbolOffset":9,"labelOffset":10,"rowPadding":3,"strokeColor":"#777777","fillColor":"white"}}
  }}
]},
{"layer":[
 {"data":{"values":[{}]},"mark":{"type":"rect","fill":"white","fillOpacity":0,"stroke":"black","strokeWidth":1.5},"encoding":{"x":{"datum":78.2,"scale":{"type":"log"}},"x2":{"datum":1080000},"y":{"datum":-0.153},"y2":{"datum":3.243}}},
 {"data":{"name":"mb"},"mark":{"type":"circle","size":62,"opacity":1},
  "encoding":{
   "x":{"field":"f","type":"quantitative","scale":{"type":"log","domain":[78.2,1080000],"range":[673,1178],"nice":false},
     "axis":{"orient":"bottom","offset":-68,"values":[100,200,300,400,500,600,700,800,900,1000,2000,3000,4000,5000,6000,7000,8000,9000,10000,20000,30000,40000,50000,60000,70000,80000,90000,100000,200000,300000,400000,500000,600000,700000,800000,900000,1000000],
       "labelExpr":"datum.value==100?'10²':datum.value==1000?'10³':datum.value==10000?'10⁴':datum.value==100000?'10⁵':datum.value==1000000?'10⁶':''",
       "ticks":true,"tickSize":7,"labelPadding":11,"labelFont":"Liberation Serif","labelFontWeight":"bold","labelFontSize":17,
       "title":"Frequency (Hz)","titleFont":"DejaVu Sans","titleFontWeight":"bold","titleFontSize":15,"titleY":47,"titleBaseline":"top"}},
   "y":{"field":"z","type":"quantitative","scale":{"domain":[-0.153,3.243],"range":[385,8],"nice":false,"zero":false},
     "axis":{"orient":"left","offset":-680,"values":[0,0.25,0.5,0.75,1,1.25,1.5,1.75,2,2.25,2.5,2.75,3],
       "labelExpr":"(datum.value*2) % 1 == 0 ? format(datum.value,'.1f') : ''",
       "ticks":true,"tickSize":7,"labelPadding":7,"labelFont":"Liberation Serif","labelFontWeight":"bold","labelFontSize":17,
       "title":"Z\"x 10⁷ Ω","titleFont":"Liberation Serif","titleFontStyle":"italic","titleFontWeight":"bold","titleFontSize":22,"titleX":-47,"titleBaseline":"alphabetic","titleAngle":270}},
   "color":{"field":"T","type":"nominal","scale":{"domain":[150,160,170,180,190,200,210,220,230,240,250],"range":["#000000","#ee1111","#1515ee","#2f9a92","#f03cf0","#9a9a20","#14147e","#7d0f0f","#ee2f8f","#1f9a1f","#f7941d"]},
     "legend":{"orient":"none","legendX":773,"legendY":58,"direction":"vertical","title":null,"symbolType":"circle","symbolSize":55,"symbolStrokeWidth":0,"labelFont":"Liberation Serif","labelFontWeight":"bold","labelFontSize":9,"labelExpr":"datum.label + ' K'","padding":6,"symbolOffset":1,"labelOffset":10,"rowPadding":3.7,"strokeColor":"#777777","fillColor":"white"}}
  }},
 {"data":{"values":[{}]},"mark":{"type":"rect","fill":"black"},"encoding":{"x":{"datum":567.7,"scale":{"type":"log"}},"x2":{"datum":1602},"y":{"datum":1.4054},"y2":{"datum":2.7746}}},
 {"data":{"values":[{}]},"mark":{"type":"rect","fill":"black"},"encoding":{"x":{"datum":112,"scale":{"type":"log"}},"x2":{"datum":686},"y":{"datum":2.901},"y2":{"datum":3.135}}},
 {"data":{"values":[{}]},"mark":{"type":"rect","fill":"white","stroke":"#999999","strokeWidth":1},"encoding":{"x":{"datum":100,"scale":{"type":"log"}},"x2":{"datum":612},"y":{"datum":2.955},"y2":{"datum":3.18}}},
 {"data":{"values":[{}]},"mark":{"type":"text","text":"LBFO1100","font":"DejaVu Sans","fontSize":17,"color":"#e81ce8","align":"center","baseline":"middle"},"encoding":{"x":{"datum":247,"scale":{"type":"log"}},"y":{"datum":3.063}}},
 {"data":{"values":[{}]},"mark":{"type":"text","text":"(b)","font":"DejaVu Sans","fontSize":18,"fontWeight":"bold","color":"black","align":"center","baseline":"middle"},"encoding":{"x":{"datum":1038,"scale":{"type":"log"}},"y":{"datum":3.063}}}
]},
{"layer":[
 {"data":{"values":[{}]},"mark":{"type":"rect","fill":"white","stroke":"black","strokeWidth":1.3},"encoding":{"x":{"datum":83.8,"scale":{"type":"log"}},"x2":{"datum":1111000},"y":{"datum":-0.0005},"y2":{"datum":0.01}}},
 {"data":{"values":[{}]},"mark":{"type":"rect","fill":"black"},"encoding":{"x":{"datum":225,"scale":{"type":"log"}},"x2":{"datum":1937},"y":{"datum":0.003978},"y2":{"datum":0.009305}}},
 {"data":{"name":"ib"},"mark":{"type":"circle","size":24,"opacity":1},
  "encoding":{
   "x":{"field":"f","type":"quantitative","scale":{"type":"log","domain":[83.8,1111000],"range":[893,1162],"nice":false},
     "axis":{"orient":"bottom","offset":-154,"values":[100,200,300,400,500,600,700,800,900,1000,2000,3000,4000,5000,6000,7000,8000,9000,10000,20000,30000,40000,50000,60000,70000,80000,90000,100000,200000,300000,400000,500000,600000,700000,800000,900000,1000000],
       "labelExpr":"datum.value==100?'10²':datum.value==1000?'10³':datum.value==10000?'10⁴':datum.value==100000?'10⁵':datum.value==1000000?'10⁶':''",
       "ticks":true,"tickSize":5,"labelPadding":7,"labelFont":"Liberation Serif","labelFontWeight":"bold","labelFontSize":11,
       "title":"Frequency (Hz)","titleFont":"DejaVu Sans","titleFontWeight":"bold","titleFontSize":10.5,"titleY":30,"titleBaseline":"top"}},
   "y":{"field":"z","type":"quantitative","scale":{"domain":[-0.0005,0.01],"range":[297,25],"nice":false,"zero":false},
     "axis":{"orient":"left","offset":-898,"values":[0,0.001,0.002,0.003,0.004,0.005,0.006,0.007,0.008,0.009,0.01],
       "labelExpr":"abs(datum.value*500-round(datum.value*500))<0.001 ? format(datum.value,'.3f') : ''",
       "ticks":true,"tickSize":5,"labelPadding":3,"labelFont":"Liberation Serif","labelFontWeight":"bold","labelFontSize":12,
       "title":"Z\"x 10⁷ Ω","titleFont":"Liberation Serif","titleFontStyle":"italic","titleFontSize":15,"titleX":-41,"titleY":152,"titleBaseline":"alphabetic","titleAngle":270}},
   "color":{"field":"T","type":"nominal","scale":{"domain":[260,270,280,290,300,310,320,330,340,350],"range":["#000000","#ee1111","#1515ee","#2f9a92","#f03cf0","#9a9a20","#14147e","#7d0f0f","#ee2f8f","#1f9a1f"]},
     "legend":{"orient":"none","legendX":916,"legendY":38,"direction":"vertical","title":null,"symbolType":"circle","symbolSize":68,"symbolStrokeWidth":0,"labelFont":"Liberation Serif","labelFontWeight":"bold","labelFontSize":10.5,"labelExpr":"datum.label + ' K'","padding":3,"symbolOffset":9,"labelOffset":9,"rowPadding":3.1,"strokeColor":"#777777","fillColor":"white"}}
  }}
]}
],
"resolve":{"scale":{"x":"independent","y":"independent","color":"independent"}}
}
